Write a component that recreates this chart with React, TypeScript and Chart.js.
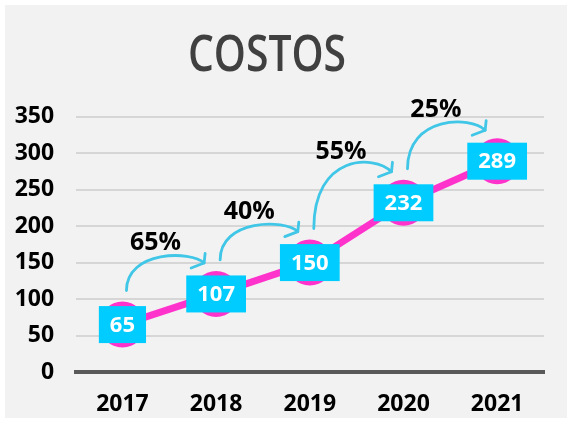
import React, { useEffect, useRef } from 'react';
import { Chart, registerables } from 'chart.js';

Chart.register(...registerables);

// ---- data ----
const chartTitle = 'COSTOS';
const years = ['2017', '2018', '2019', '2020', '2021'];
const costs = [65, 107, 150, 232, 289];
const growthLabels = ['65%', '40%', '55%', '25%'];
const yMin = 0;
const yMax = 350;
const yStep = 50;

// ---- styles ----
const FONT = "'Open Sans', 'Noto Sans', sans-serif";
const TITLE_FONT = "'Open Sans', 'Noto Sans', sans-serif";
const PINK = '#ff33cc';
const BOX = '#00ccff';
const ARROW = '#40c6e6';

const overlayPlugin = {
  id: 'overlay',
  beforeDraw(chart: any) {
    const { ctx, chartArea } = chart;
    ctx.save();
    ctx.font = `600 50px ${TITLE_FONT}`;
    ctx.fillStyle = '#404040';
    ctx.textAlign = 'center';
    ctx.textBaseline = 'alphabetic';
    const w = ctx.measureText(chartTitle).width;
    const targetW = 158;
    const cx = chartArea.left + 191.4;
    ctx.translate(cx, 66);
    ctx.scale(targetW / w, 1);
    ctx.fillText(chartTitle, 0, 0);
    ctx.restore();
  },
  afterDatasetsDraw(chart: any) {
    const { ctx } = chart;
    const meta = chart.getDatasetMeta(0);
    const pts = meta.data.map((p: any) => ({ x: p.x, y: p.y }));

    // growth arrows + labels
    ctx.save();
    ctx.strokeStyle = ARROW;
    ctx.lineWidth = 2.8;
    ctx.lineCap = 'round';
    ctx.lineJoin = 'round';
    for (let i = 0; i < growthLabels.length; i++) {
      const S = { x: pts[i].x + 4, y: pts[i].y - 34 };
      const T = { x: pts[i + 1].x - 12, y: pts[i + 1].y - 31 };
      const top = Math.min(S.y, T.y) - 6;
      const Y1 = (top - 0.125 * (S.y + T.y)) / 0.75;
      const d = T.y - Y1;
      const P1 = { x: S.x, y: Y1 };
      const P2 = { x: T.x - d, y: Y1 };
      ctx.beginPath();
      ctx.moveTo(S.x, S.y);
      ctx.bezierCurveTo(P1.x, P1.y, P2.x, P2.y, T.x, T.y);
      ctx.stroke();
      ctx.beginPath();
      ctx.moveTo(T.x + 1, T.y - 9.5);
      ctx.lineTo(T.x, T.y);
      ctx.lineTo(T.x - 13, T.y + 5);
      ctx.stroke();
      const midX = 0.125 * S.x + 0.375 * P1.x + 0.375 * P2.x + 0.125 * T.x;
      ctx.save();
      ctx.font = `700 25px ${FONT}`;
      ctx.fillStyle = '#000';
      ctx.textAlign = 'center';
      ctx.textBaseline = 'middle';
      ctx.fillText(growthLabels[i], midX - 5, top - 14);
      ctx.restore();
    }
    ctx.restore();

    // value boxes
    ctx.save();
    ctx.font = `700 22px ${FONT}`;
    ctx.textAlign = 'center';
    ctx.textBaseline = 'middle';
    pts.forEach((p: any, i: number) => {
      const txt = String(costs[i]);
      const w = ctx.measureText(txt).width + 22;
      const h = 37;
      ctx.fillStyle = BOX;
      ctx.fillRect(p.x - w / 2, p.y - h / 2, w, h);
      ctx.fillStyle = '#fff';
      ctx.fillText(txt, p.x, p.y + 1);
    });
    ctx.restore();
  },
};

export default function App() {
  const ref = useRef<HTMLCanvasElement | null>(null);

  useEffect(() => {
    if (!ref.current) return;
    const chart = new Chart(ref.current, {
      type: 'line',
      data: {
        labels: years,
        datasets: [
          {
            data: costs,
            borderColor: PINK,
            backgroundColor: PINK,
            borderWidth: 7,
            pointRadius: 23,
            pointHoverRadius: 23,
            pointBackgroundColor: PINK,
            pointBorderWidth: 0,
            tension: 0,
            clip: false as any,
          },
        ],
      },
      options: {
        responsive: false,
        animation: false,
        devicePixelRatio: 1,
        layout: { padding: { top: 111.7, right: 17.6, bottom: 0, left: 0 } },
        plugins: {
          legend: { display: false },
          title: { display: false },
          tooltip: { enabled: false },
        },
        scales: {
          x: {
            offset: true,
            grid: { display: false, drawTicks: false },
            border: { display: true, color: '#595959', width: 4 },
            ticks: {
              color: '#000',
              font: { family: FONT, size: 23, weight: 'bold' },
              padding: 19,
            },
            afterFit: (s: any) => {
              s.height = 46;
            },
          },
          y: {
            min: yMin,
            max: yMax,
            grid: {
              drawTicks: false,
              color: (c: any) => (c.tick && c.tick.value === 0 ? 'rgba(0,0,0,0)' : '#d6d6d6'),
              lineWidth: 2,
            },
            border: { display: false },
            ticks: {
              stepSize: yStep,
              color: '#000',
              font: { family: FONT, size: 23, weight: 'bold' },
              padding: 21.5,
            },
            afterFit: (s: any) => {
              s.width = 70.6;
            },
          },
        },
      },
      plugins: [overlayPlugin],
    });
    return () => chart.destroy();
  }, []);

  return (
    <div style={{ position: 'absolute', left: 0, top: 0, width: 567, height: 421, background: '#fff' }}>
      <div style={{ position: 'absolute', left: 5, top: 5, width: 562, height: 413, background: '#f2f2f2' }}>
        <canvas ref={ref} width={562} height={413} style={{ width: 562, height: 413, display: 'block' }} />
      </div>
    </div>
  );
}
